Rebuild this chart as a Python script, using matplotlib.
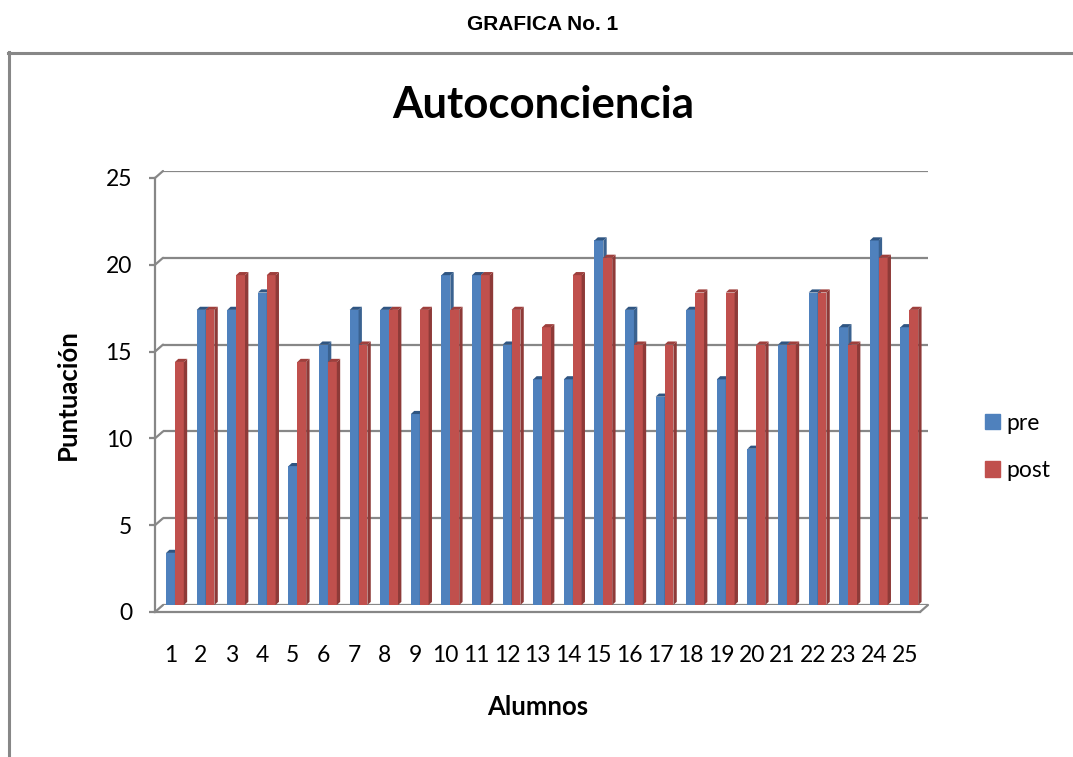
import matplotlib
matplotlib.use("Agg")
import matplotlib.pyplot as plt
from matplotlib.patches import Polygon, ConnectionPatch, Patch
from matplotlib.lines import Line2D

# data
alumnos = [str(i) for i in range(1, 26)]
pre = [3, 17, 17, 18, 8, 15, 17, 17, 11, 19, 19, 15, 13, 13, 21, 17, 12, 17, 13, 9, 15, 18, 16, 21, 16]
post = [14, 17, 19, 19, 14, 14, 15, 17, 17, 17, 19, 17, 16, 19, 20, 15, 15, 18, 18, 15, 15, 18, 15, 20, 17]
yticks = [0, 5, 10, 15, 20, 25]

W, H = 1073, 757
grey = '#878787'
font = 'Lato'

fig = plt.figure(figsize=(W / 100, H / 100), dpi=100)

def fx(px):
    return px / W

def fy(py):
    return 1 - py / H

# back wall: gridlines and bars
ax = fig.add_axes([fx(163), fy(605), fx(928) - fx(163), fy(171) - fy(605)])
# front frame: axis lines, ticks, labels
axf = fig.add_axes([fx(155), fy(612), fx(920) - fx(155), fy(178) - fy(612)])

for a in (ax, axf):
    a.set_xlim(-0.5, len(alumnos) - 0.5)
    a.set_ylim(0, 25)
    a.set_facecolor('none')

ax.set_zorder(2)
axf.set_zorder(1)

for s in ax.spines.values():
    s.set_visible(False)
ax.set_xticks([])
ax.set_yticks(yticks)
ax.tick_params(left=False, labelleft=False)
ax.yaxis.grid(True, color=grey, lw=1.6)
ax.set_axisbelow(True)

w = 0.29
dx, dy = 0.11, 0.18
series = [
    (pre, -0.40, '#4F81BD', '#3A6290', '#2F5582'),
    (post, -0.11, '#C0504D', '#8E3A38', '#9E3F3C'),
]
for i in range(len(alumnos)):
    for vals, off, face, side, top in series:
        v = vals[i]
        x0 = i + off
        ax.bar(x0, v, width=w, align='edge', color=face, lw=0, zorder=3)
        ax.add_patch(Polygon([(x0 + w, 0), (x0 + w + dx, dy), (x0 + w + dx, v + dy), (x0 + w, v)],
                             closed=True, color=side, lw=0, zorder=3))
        ax.add_patch(Polygon([(x0, v), (x0 + dx, v + dy), (x0 + w + dx, v + dy), (x0 + w, v)],
                             closed=True, color=top, lw=0, zorder=3))

# front axis styling
for k in ('top', 'right'):
    axf.spines[k].set_visible(False)
for k in ('left', 'bottom'):
    axf.spines[k].set_color(grey)
    axf.spines[k].set_linewidth(1.6)
axf.set_yticks(yticks)
axf.set_yticklabels([str(t) for t in yticks])
axf.set_xticks(range(len(alumnos)))
axf.set_xticklabels(alumnos)
axf.tick_params(axis='y', length=4.5, width=1.6, color=grey, pad=12, labelsize=16.5)
axf.tick_params(axis='x', length=0, pad=24, labelsize=16.5)
for lbl in axf.get_xticklabels() + axf.get_yticklabels():
    lbl.set_family(font)

# little diagonals joining the front frame to the back wall
for t in yticks:
    fig.add_artist(ConnectionPatch(xyA=(-0.5, t), coordsA=axf.transData,
                                   xyB=(-0.5, t), coordsB=ax.transData,
                                   color=grey, lw=1.6))
fig.add_artist(ConnectionPatch(xyA=(len(alumnos) - 0.5, 0), coordsA=axf.transData,
                               xyB=(len(alumnos) - 0.5, 0), coordsB=ax.transData,
                               color=grey, lw=1.6))

# outer chart frame
fig.add_artist(Line2D([fx(8.5), fx(8.5)], [fy(52), 0], color=grey, lw=2.2))
fig.add_artist(Line2D([fx(7.7), 1], [fy(52.5), fy(52.5)], color=grey, lw=2.2))

fig.text(fx(543), fy(25), 'GRAFICA No. 1', ha='center', va='center',
         family='Liberation Sans', weight='bold', fontsize=15)
fig.text(fx(543), fy(105), 'Autoconciencia', ha='center', va='center',
         family=font, weight='bold', fontsize=31.5)
fig.text(fx(68), fy(395), 'Puntuación', ha='center', va='center', rotation=90,
         family=font, weight='bold', fontsize=18.5)
fig.text(fx(538), fy(707), 'Alumnos', ha='center', va='center',
         family=font, weight='bold', fontsize=18.5)

handles = [Patch(color='#4F81BD', label='pre'), Patch(color='#C0504D', label='post')]
fig.legend(handles=handles, loc='center left', bbox_to_anchor=(fx(985), fy(447)),
           frameon=False, prop={'family': font, 'size': 16.5},
           handlelength=0.65, handleheight=0.65, handletextpad=0.3,
           labelspacing=1.15, borderpad=0, borderaxespad=0)

fig.savefig('out.png', dpi=100)
